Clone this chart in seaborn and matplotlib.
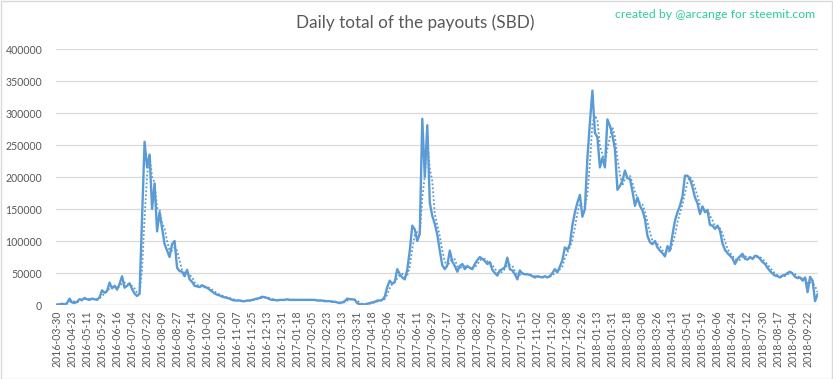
import numpy as np
import pandas as pd
import matplotlib
matplotlib.use("Agg")
import matplotlib.pyplot as plt
from matplotlib.patches import Rectangle
import seaborn as sns

# ---- data -------------------------------------------------------------
tick_labels = [
    "2016-03-30", "2016-04-23", "2016-05-11", "2016-05-29", "2016-06-16", "2016-07-04",
    "2016-07-22", "2016-08-09", "2016-08-27", "2016-09-14", "2016-10-02", "2016-10-20",
    "2016-11-07", "2016-11-25", "2016-12-13", "2016-12-31", "2017-01-18", "2017-02-05",
    "2017-02-23", "2017-03-13", "2017-03-31", "2017-04-18", "2017-05-06", "2017-05-24",
    "2017-06-11", "2017-06-29", "2017-07-17", "2017-08-04", "2017-08-22", "2017-09-09",
    "2017-09-27", "2017-10-15", "2017-11-02", "2017-11-20", "2017-12-08", "2017-12-26",
    "2018-01-13", "2018-01-31", "2018-02-18", "2018-03-08", "2018-03-26", "2018-04-13",
    "2018-05-01", "2018-05-19", "2018-06-06", "2018-06-24", "2018-07-12", "2018-07-30",
    "2018-08-17", "2018-09-04", "2018-09-22",
]

# daily payout total (thousand SBD), read every 3rd day from the chart
payout_k = [
    1, 1, 2, 1, 3, 10, 4, 3, 5, 9, 8, 11, 9, 8, 10, 9, 8, 12, 23, 19,
    22, 35, 26, 30, 24, 33, 45, 27, 30, 34, 25, 18, 14, 18, 135, 255, 215, 235, 150, 190,
    115, 145, 120, 95, 85, 75, 95, 100, 58, 53, 52, 45, 55, 40, 36, 30, 29, 28, 31, 28,
    27, 24, 21, 18, 16, 15, 13, 12, 11, 10, 8, 7, 7, 7, 6, 6, 7, 7, 8, 9,
    10, 11, 13, 12, 11, 9, 8, 8, 7, 8, 8, 8, 9, 8, 8, 8, 8, 8, 8, 8,
    8, 8, 8, 8, 7, 7, 7, 6, 6, 6, 5, 5, 4, 3, 4, 6, 10, 9, 9, 8,
    3, 1, 1, 1, 2, 3, 4, 5, 7, 7, 8, 13, 28, 38, 33, 36, 56, 48, 43, 40,
    55, 85, 124, 118, 100, 112, 291, 200, 281, 160, 139, 127, 110, 85, 62, 56, 62, 85, 68, 61,
    52, 61, 64, 56, 61, 58, 56, 64, 70, 75, 72, 69, 64, 67, 55, 50, 46, 54, 56, 59,
    74, 56, 54, 48, 40, 54, 49, 48, 48, 47, 45, 43, 45, 44, 43, 45, 43, 45, 50, 56,
    51, 60, 70, 90, 86, 95, 125, 145, 160, 172, 138, 150, 230, 285, 335, 269, 262, 215, 230, 215,
    290, 280, 265, 244, 180, 186, 194, 210, 198, 197, 178, 155, 168, 155, 148, 134, 108, 98, 95, 100,
    90, 85, 81, 76, 92, 85, 110, 132, 145, 155, 170, 202, 202, 197, 184, 168, 159, 142, 154, 145,
    148, 125, 124, 119, 124, 116, 96, 86, 81, 77, 73, 64, 72, 76, 80, 72, 71, 75, 72, 77,
    76, 72, 67, 64, 58, 53, 49, 46, 45, 43, 46, 47, 50, 52, 49, 44, 42, 43, 38, 43,
    20, 44, 38, 6, 17,
]
sample_step = 3      # days between stored samples
label_every = 18     # days between category labels
y_ticks = [0, 50000, 100000, 150000, 200000, 250000, 300000, 350000, 400000]

# ---- frame --------------------------------------------------------------
df = pd.DataFrame({
    "pos": np.arange(len(payout_k)) * sample_step,
    "sbd": np.array(payout_k, dtype=float) * 1000,
})
df["ma"] = df["sbd"].rolling(3, min_periods=3).mean()   # moving-average trendline

# ---- style ------------------------------------------------------------
sns.set_style("white")
plt.rcParams["font.family"] = ["Lato", "DejaVu Sans"]
blue = "#5B9BD5"
grey_txt = "#595959"
grid_c = "#D9D9D9"

fig = plt.figure(figsize=(8.33, 3.79), dpi=100)
fig.patch.set_facecolor("white")
fig.patches.append(Rectangle((0.5 / 833, 0.5 / 379), 831.5 / 833, 377.5 / 379,
                             transform=fig.transFigure, fill=False,
                             edgecolor=grid_c, lw=1.0, zorder=0))

ax = fig.add_axes([56 / 833, 74 / 379, 762 / 833, 256 / 379])
sns.lineplot(data=df, x="pos", y="sbd", ax=ax, color=blue, lw=1.7, zorder=3)
sns.lineplot(data=df, x="pos", y="ma", ax=ax, color=blue, lw=1.3,
             linestyle=(0, (1, 1.2)), zorder=2)

ax.set_xlim(-1.2, 912.5)
ax.set_ylim(0, 400000)
ax.set_yticks(y_ticks)
ax.set_yticklabels([str(v) for v in y_ticks])
ax.set_xticks(np.arange(len(tick_labels)) * label_every)
ax.set_xticklabels(tick_labels, rotation=90)
ax.tick_params(axis="both", length=0, labelsize=7.6, labelcolor=grey_txt)
ax.tick_params(axis="y", pad=10)
ax.tick_params(axis="x", pad=4)
ax.set_xlabel("")
ax.set_ylabel("")
ax.grid(axis="y", color=grid_c, lw=0.9)
ax.grid(axis="x", visible=False)
for s in ax.spines.values():
    s.set_visible(False)
ax.axhline(0, color=grid_c, lw=1.0, zorder=1)

fig.text(415 / 833, 1 - 23 / 379, "Daily total of the payouts (SBD)", ha="center", va="center",
         fontsize=12.3, color=grey_txt)
fig.text(815 / 833, 1 - 15 / 379, "created by @arcange for steemit.com", ha="right",
         va="center", fontsize=8.8, color="#2ECC9A")

fig.savefig("out.png", dpi=100)
